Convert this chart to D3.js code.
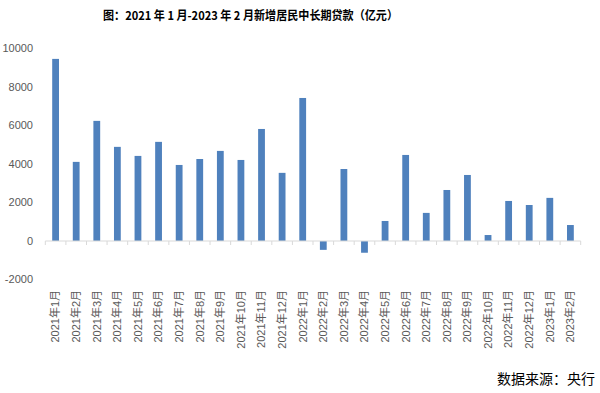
<!DOCTYPE html>
<html>
<head>
<meta charset="utf-8">
<script src="https://cdn.jsdelivr.net/npm/d3@7"></script>
<style>
  body { margin: 0; background: #fff; }
  svg { display: block; }
</style>
</head>
<body>
<svg class="chart"></svg>
<script>
// -------------------- Data --------------------
var months = [
  "2021年1月", "2021年2月", "2021年3月", "2021年4月", "2021年5月", "2021年6月",
  "2021年7月", "2021年8月", "2021年9月", "2021年10月", "2021年11月", "2021年12月",
  "2022年1月", "2022年2月", "2022年3月", "2022年4月", "2022年5月", "2022年6月",
  "2022年7月", "2022年8月", "2022年9月", "2022年10月", "2022年11月", "2022年12月",
  "2023年1月", "2023年2月"
];
var loans = [
  9460, 4110, 6240, 4890, 4420, 5150,
  3950, 4260, 4680, 4210, 5820, 3540,
  7430, -460, 3740, -610, 1040, 4470,
  1460, 2650, 3430, 310, 2080, 1870,
  2240, 830
];
var yTicks = [-2000, 0, 2000, 4000, 6000, 8000, 10000];

// -------------------- Settings --------------------
var width = 600, height = 393;
var latin = "'Liberation Sans', 'Noto Sans CJK SC', sans-serif";

var svg = d3.select(".chart")
  .attr("width", width)
  .attr("height", height);

// -------------------- Scales --------------------
var x = d3.scaleBand()
  .domain(months)
  .range([45.3, 580.7])
  .paddingInner(0.67)
  .paddingOuter(0.335);

var y = d3.scaleLinear()
  .domain([-2000, 10000])
  .range([279.5, 48.5]);

var step = x.step();

// -------------------- Title --------------------
svg.append("text")
  .attr("x", 250.5)
  .attr("y", 20)
  .attr("text-anchor", "middle")
  .attr("textLength", 295)
  .attr("lengthAdjust", "spacingAndGlyphs")
  .style("font-family", "'Noto Sans CJK SC', sans-serif")
  .style("font-weight", "bold")
  .style("font-size", "12px")
  .style("fill", "#000")
  .text("图：2021 年 1 月-2023 年 2 月新增居民中长期贷款（亿元）");

// -------------------- Y axis labels --------------------
svg.append("g")
  .selectAll("text")
  .data(yTicks)
  .enter()
  .append("text")
    .attr("x", 33)
    .attr("y", function(d) { return y(d); })
    .attr("dy", "0.35em")
    .attr("text-anchor", "end")
    .style("font-family", latin)
    .style("font-size", "11px")
    .style("fill", "#595959")
    .text(function(d) { return d; });

// -------------------- Bars --------------------
svg.append("g")
  .selectAll("rect")
  .data(loans)
  .enter()
  .append("rect")
    .attr("x", function(d, i) { return x(months[i]); })
    .attr("y", function(d) { return y(Math.max(0, d)); })
    .attr("width", x.bandwidth())
    .attr("height", function(d) { return Math.abs(y(d) - y(0)); })
    .attr("fill", "#4f81bd");

// -------------------- X axis --------------------
var axis = svg.append("g")
  .attr("transform", "translate(0," + y(0) + ")");

axis.append("line")
  .attr("x1", 45.3)
  .attr("x2", 580.7)
  .attr("stroke", "#d9d9d9")
  .attr("stroke-width", 1);

// tick marks at category boundaries
axis.selectAll(".tick")
  .data(d3.range(months.length + 1))
  .enter()
  .append("line")
    .attr("class", "tick")
    .attr("x1", function(i) { return 45.3 + i * step; })
    .attr("x2", function(i) { return 45.3 + i * step; })
    .attr("y1", 0)
    .attr("y2", 4)
    .attr("stroke", "#d9d9d9");

svg.append("g")
  .selectAll("text")
  .data(months)
  .enter()
  .append("text")
    .attr("transform", function(d) {
      return "translate(" + (x(d) + x.bandwidth() / 2) + ",290) rotate(-90)";
    })
    .attr("dy", "0.35em")
    .attr("text-anchor", "end")
    .style("font-family", latin)
    .style("font-size", "11px")
    .style("fill", "#595959")
    .text(function(d) { return d; });

// -------------------- Source --------------------
svg.append("text")
  .attr("x", 595)
  .attr("y", 384)
  .attr("text-anchor", "end")
  .style("font-family", "'Noto Sans CJK SC', sans-serif")
  .style("font-size", "14px")
  .style("fill", "#000")
  .text("数据来源：央行");
</script>
</body>
</html>
